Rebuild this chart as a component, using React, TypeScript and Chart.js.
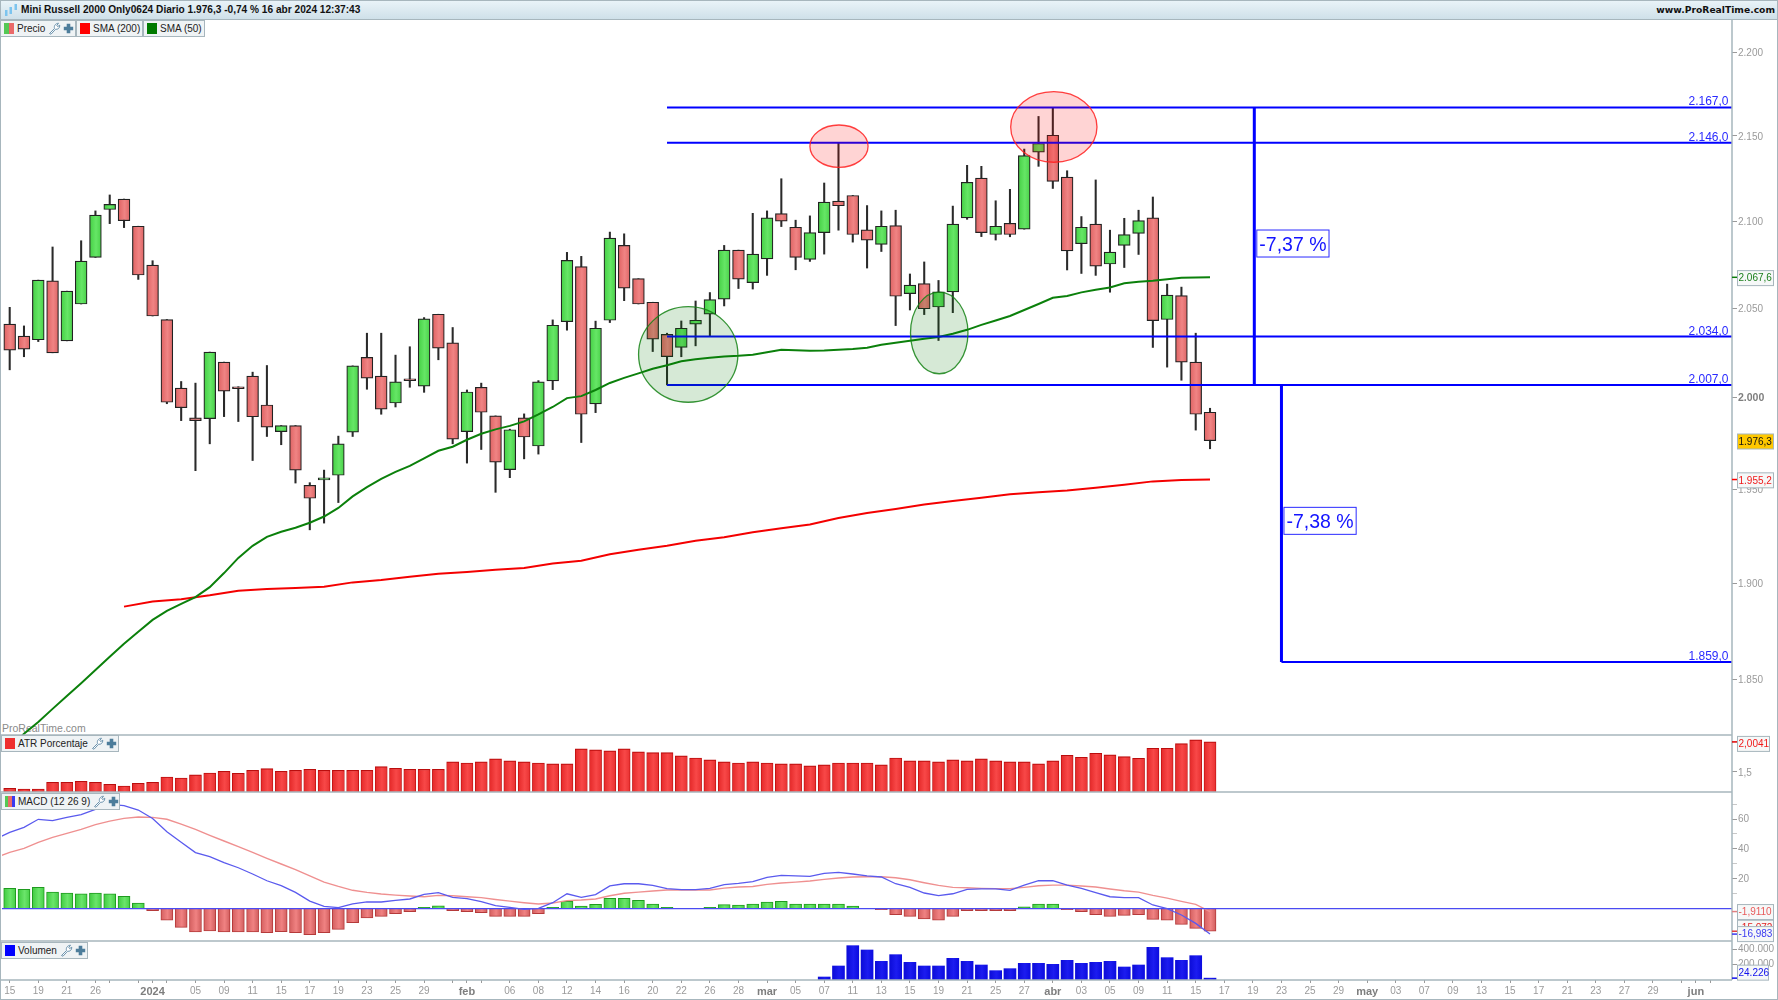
import React, { useEffect, useRef } from "react";
import { Chart, registerables } from "chart.js";
Chart.register(...registerables);

// ---------- data ----------
const open = [2041,2034.3,2032.2,2065.6,2031.6,2052.4,2079,2106.7,2112.8,2097,2074.6,2043.6,2005.2,1988.8,1988.4,2019.7,2005.4,2011.9,1995.9,1981.3,1984.6,1952.1,1955,1957.5,1981,2022.3,2011.9,1997,2009.8,2006.3,2046.6,2030.5,1981.3,2005.7,1989.9,1960.6,1988.8,1973.4,2009.2,2042.4,2073.7,1996.5,2043.2,2085.9,2066.8,2053.4,2035.2,2027.9,2041,2046.6,2055.1,2083.2,2064.6,2078.1,2104.3,2096.4,2077.9,2093.3,2111.6,2114.9,2094.9,2086.5,2097.4,2058.3,2064,2050.7,2059.3,2101.8,2125.1,2092.2,2098.7,2095.3,2140.4,2150.4,2125.7,2086.9,2098.2,2075.2,2085.9,2092.8,2101.8,2043.6,2057.2,2019.7,1991.9];
const close = [2026.4,2027,2066,2024.9,2059.7,2076.9,2103.4,2109.7,2100.2,2068.9,2045.6,1997.4,1994.4,1987.3,2025.3,2003.6,2004.9,1989.4,1983.7,1984.6,1960.3,1945.1,1956.1,1974.6,2017.6,2010.8,1993.6,2008.7,2009.3,2044,2027.5,1977.2,2003.1,1991.9,1964.6,1982.3,1978.3,2008.7,2040.4,2077.3,1990.8,2038.7,2090.1,2061.4,2052.4,2032.6,2022.8,2038.7,2043.2,2054.9,2083.2,2066.6,2080.9,2101.8,2099.9,2079,2093.3,2111,2108.9,2092.2,2089,2097,2056.8,2063.1,2049.7,2059.3,2098.2,2122.6,2093.3,2097,2092.2,2138.3,2145.5,2123.2,2082.7,2096.4,2074,2082.1,2092.2,2100.2,2043,2057.5,2019.7,1990.8,1976.3];
const high = [2050.5,2040,2066,2085,2059.7,2088.6,2105.9,2115.2,2112.8,2097,2077.1,2043.6,2008.9,2008,2025.3,2019.7,2006,2014.1,2017.8,1984.6,1984.6,1953.5,1960.3,1978.8,2017.6,2035.9,2035.9,2023.6,2028.3,2044.7,2046.6,2039.1,2004.2,2008,1989.9,1982.6,1991,2009.4,2043.4,2081.9,2079.6,2042.7,2093.6,2092.6,2066.8,2053.4,2035.9,2042.8,2054.1,2058.9,2085.9,2083.2,2104.5,2105.9,2124.7,2100.5,2103,2122.2,2146,2114.9,2109,2105.9,2106.3,2069.5,2076.4,2065.8,2108.7,2132.6,2132,2111.8,2118.5,2142.2,2161.6,2167,2129.4,2102.6,2124,2094.7,2101.6,2106.3,2114,2063.7,2062,2035.9,1994.1];
const low = [2015.4,2022.7,2031.2,2024.9,2031.6,2052.4,2079,2098.5,2096.2,2066.4,2045.6,1996.6,1987.3,1960,1974.6,1989.5,1986.8,1965.5,1978.6,1974.1,1953.3,1928.2,1931.8,1942.8,1978.6,2004.6,1990.8,1994.8,2005.7,2002.9,2021,1974.6,1964.1,1971.5,1948.3,1956.2,1966.4,1969,2004.4,2037.6,1975.3,1991.7,2041.9,2054.3,2052.4,2025.6,2007,2022.7,2028.8,2034,2051.3,2061.2,2060.9,2068.7,2096.8,2071.9,2076.7,2080.9,2094.7,2087.8,2072.9,2082.4,2040.2,2049,2046.4,2031.8,2047.5,2101,2091,2089,2090.9,2095.3,2132,2119,2071.8,2069.8,2068.7,2059.1,2073.2,2080.7,2027.9,2016.9,2009.6,1982.1,1971.9];
const sma50 = [1815.4,1822.5,1828.5,1835.1,1841.7,1848.2,1854.9,1861.7,1868.4,1874.6,1880.8,1885.5,1889.1,1892.7,1897.9,1905.3,1913.3,1919.7,1924.5,1927.2,1929.3,1932,1935.3,1939.9,1946.1,1951.1,1955.5,1959.3,1962.6,1966.7,1970.8,1973,1976.8,1980.1,1982.5,1984.4,1986.9,1990.7,1994.8,1999.7,2000.8,2004.2,2008.1,2010.9,2013.4,2016,2017.9,2020.2,2021.3,2022.1,2022.8,2023.2,2023.8,2025.2,2026.6,2026.3,2026,2026.2,2026.6,2027,2027.7,2029.4,2030.5,2031.6,2032.8,2033.8,2035.6,2037.8,2040.6,2043.1,2045.6,2049,2052.4,2055.9,2057,2059,2060.5,2061.8,2064.2,2065.1,2065.6,2066.5,2067.3,2067.5,2067.6];
// read every second bar, starting at bar 8
const sma200Start = 8;
const sma200 = [1887.7,1890.4,1891.6,1893.6,1896,1896.9,1897.4,1898.1,1900.4,1901.6,1903.4,1904.9,1905.8,1907,1908,1910.3,1911.8,1915.2,1917.6,1919.7,1922.4,1924.2,1926.9,1929.1,1931.1,1934.5,1937.2,1939.3,1941.7,1943.6,1945.4,1947.2,1948.3,1949.3,1950.8,1952.4,1954.2,1954.9,1955.2];
const atr = [1.226,1.215,1.215,1.327,1.327,1.343,1.327,1.293,1.265,1.31,1.327,1.416,1.399,1.45,1.483,1.511,1.478,1.528,1.556,1.511,1.528,1.545,1.528,1.528,1.528,1.528,1.59,1.562,1.545,1.545,1.545,1.668,1.651,1.668,1.719,1.685,1.668,1.651,1.635,1.635,1.886,1.87,1.853,1.886,1.836,1.825,1.825,1.769,1.735,1.702,1.668,1.651,1.668,1.651,1.635,1.635,1.601,1.618,1.651,1.651,1.651,1.618,1.735,1.685,1.685,1.668,1.702,1.685,1.719,1.685,1.668,1.668,1.635,1.685,1.78,1.747,1.814,1.786,1.758,1.73,1.898,1.898,1.976,2.038,2.0041];
const macdHist = [13.6,12.9,14.3,11.1,10.5,10,10.5,10,8.2,3.8,-1.3,-7.6,-12.5,-15.6,-14.9,-15.6,-15.6,-15.6,-16.1,-15.4,-16.1,-17.4,-16.1,-13.8,-9.4,-6.2,-5.1,-3.3,-2,0.9,2,-1.3,-2,-2.7,-5.1,-5.1,-5.1,-3.3,0.9,4.9,1.8,2.9,6.9,6.9,5.6,3.1,0.9,0,0,0.9,2.7,2.5,3.1,4.5,4.9,3.1,3.1,3.1,3.1,1.8,0,-0.7,-4,-5.1,-6.9,-7.6,-5.1,-1.3,-1.3,-1.3,-1.3,1.3,3.1,3.1,-0.7,-2,-4,-5.1,-4.5,-4,-7.1,-7.6,-10.5,-13.2,-15.072];
// both MACD lines run in from the left edge, so their lists begin one bar before the first candle
const macdLineStart = -1;
const macdLine = [46.5,51,54.4,59.8,58.9,61.1,62.9,66.4,69.8,68.9,66,60.4,51.5,44.4,37.5,34.8,30.8,27.4,23.2,18.7,15.4,10.9,5.1,1.6,0.7,3.3,4.5,4.5,5.6,6.5,9.6,10.7,7.6,6.7,4.7,2,0.9,-0.4,0.2,4,10,7.6,9.4,15.2,16.7,16.7,15.6,13.4,12.7,12.7,13.6,16.1,16.9,18.1,21,22.3,21.9,21.6,23.6,24.3,23.2,21.9,21.2,16.7,14.3,10.5,8.7,10,12.9,13.2,13.2,12.3,15.8,18.7,18.7,15.8,13.6,10.7,8,7.4,7.4,2.5,0,-4.2,-9.8,-16.983];
const macdSignal = [34,37.7,40.4,44.4,47.7,50.4,53.1,56.2,58.6,60.4,61.3,61.1,59.8,56.6,53.1,49.1,45.3,41.5,37.7,33.7,29.9,26.1,21.9,17.8,14.9,12.3,10.9,9.8,9.1,8.5,8,8.9,8.7,8,7.4,6.2,5.1,4,3.1,3.8,5.4,5.8,6.5,8.7,10.3,11.1,11.8,12.5,12.7,12.5,12.5,13.8,14.5,14.9,16.3,17.2,17.8,18.5,19.6,20.5,21.2,21.4,21.4,20.7,19.4,17.4,15.6,14.3,14,13.6,13.4,13.4,14.3,15.4,15.8,15.8,15.2,14.5,13.2,12,11.1,8.9,7.1,4.9,2.9,-1.911];
const volumeStart = 57;
const volume = [39000,182400,447300,390900,243200,330100,230200,182400,182400,282300,243200,195400,121600,147700,217200,217200,204100,256200,217200,230200,243200,169400,195400,425600,291000,256200,317000,24226];

const priceTicks = [2200,2150,2100,2050,2000,1950,1900,1850];
const atrTicks = [1.5];
const macdTicks = [70,60,50,40,30,20,10];
const macdLabelled = [60,40,20];
const volumeTicks = [400000,200000];
const xTickBars = [0,2,4,6,7,9,10,11,13,15,17,19,21,23,25,27,29,31,32,33,35,37,39,41,43,45,47,49,51,53,55,57,59,61,63,65,67,69,71,73,75,77,79,81,83,85,87,89,91,93,95,97,99,101,103,105,107,109,111,113,115,117,118,119];
const xTickLabels = ["15","19","21","26","","","2024","","05","09","11","15","17","19","23","25","29","","feb","","06","08","12","14","16","20","22","26","28","mar","05","07","11","13","15","19","21","25","27","abr","03","05","09","11","15","17","19","23","25","29","may","03","07","09","13","15","17","21","23","27","29","","jun",""];
const boldLabels = ["2024","feb","mar","abr","may","jun"];

const upperLevels = [2167,2146,2034,2007];
const upperLevelFrom = 46;
const lowerLevel = 1859;
const lowerLevelFrom = 89;
const dropA = { bar: 87.1, from: 2167, to: 2007, label: "-7,37 %", labelValue: 2087 };
const dropB = { bar: 89, from: 2007, to: 1859, label: "-7,38 %", labelValue: 1933 };
const ellipses = [
  { barMin: 56, barMax: 60.07, top: 2156.5, bottom: 2131.4, fill: "rgba(255,0,0,0.17)", stroke: "rgba(255,30,30,0.85)" },
  { barMin: 70.05, barMax: 76.09, top: 2176.5, bottom: 2134.4, fill: "rgba(255,0,0,0.17)", stroke: "rgba(255,30,30,0.85)" },
  { barMin: 44.01, barMax: 50.96, top: 2050.9, bottom: 1997.4, fill: "rgba(0,120,0,0.16)", stroke: "rgba(20,130,20,0.85)" },
  { barMin: 63.04, barMax: 67.06, top: 2059.2, bottom: 2013.2, fill: "rgba(0,120,0,0.16)", stroke: "rgba(20,130,20,0.85)" },
];
const valueTags = [
  { axis: "price", value: 2067.6, text: "2.067,6", color: "#1a7f1a", bg: "#f6f8f8", w: 37, tick: "#0a7d0a", dy: 0.8 },
  { axis: "price", value: 1976.3, text: "1.976,3", color: "#111", bg: "#ffc800", w: 37, tick: "", dy: 0.8 },
  { axis: "price", value: 1955.2, text: "1.955,2", color: "#f01818", bg: "#f6f8f8", w: 37, tick: "#f00", dy: 0.8 },
  { axis: "atr", value: 2.0041, text: "2,0041", color: "#f01818", bg: "#f6f8f8", w: 33, tick: "#d00", dy: 2 },
  { axis: "macd", value: -1.911, text: "-1,9110", color: "#e85a5a", bg: "#f6f8f8", w: 37, tick: "#e08080", dy: 0.5 },
  { axis: "macd", value: -15.072, text: "-15,072", color: "#e02020", bg: "#f6f8f8", w: 37, tick: "#e04040", dy: -3.5 },
  { axis: "macd", value: -16.983, text: "-16,983", color: "#3a3af0", bg: "#f6f8f8", w: 37, tick: "#3a3af0", dy: 0 },
  { axis: "volume", value: 24226, text: "24.226", color: "#1010ee", bg: "#f6f8f8", w: 32, tick: "#1010ee", dy: -5.5 },
];

const FONT = "'Liberation Sans', Arial, sans-serif";
const fmt = (v: number) => v.toLocaleString("de-DE");
const frameColor = "#a7b6bd";
const tickGrey = "#9a9a9a";

function shade(stops: string[]) {
  return (ctx: any) => {
    const c = ctx.chart;
    const x = ctx.raw && typeof ctx.raw.x === "number" && c.scales.x ? c.scales.x.getPixelForValue(ctx.raw.x) : null;
    if (x === null || !isFinite(x)) return stops[1];
    const g = c.ctx.createLinearGradient(x - 6, 0, x + 6, 0);
    g.addColorStop(0, stops[0]);
    g.addColorStop(0.55, stops[1]);
    g.addColorStop(1, stops[2]);
    return g;
  };
}
const upShade = shade(["#44cf44", "#66e666", "#48d048"]);
const downShade = shade(["#de6262", "#f08484", "#dc6464"]);
const atrShade = shade(["#e42828", "#f84848", "#e83030"]);
const histUp = shade(["#3fcb3f", "#6be56b", "#45cf45"]);
const histDown = shade(["#d45f5f", "#f08282", "#d05c5c"]);
const volShade = shade(["#0c0cd8", "#1c1cf0", "#0c0ce0"]);

const bars = (arr: number[], start = 0) => arr.map((y, i) => ({ x: i + start, y }));
const lineBase = { type: "line", pointRadius: 0, fill: false, tension: 0 } as any;

const annotations = {
  id: "annotations",
  afterDatasetsDraw(chart: any) {
    const { ctx, scales } = chart;
    const x = scales.x, p = scales.price;
    ctx.save();
    ctx.beginPath();
    ctx.rect(x.left, p.top, x.right - x.left, p.bottom - p.top);
    ctx.clip();
    for (const e of ellipses) {
      const l = x.getPixelForValue(e.barMin), r = x.getPixelForValue(e.barMax);
      const t = p.getPixelForValue(e.top), b = p.getPixelForValue(e.bottom);
      ctx.beginPath();
      ctx.ellipse((l + r) / 2, (t + b) / 2, (r - l) / 2, (b - t) / 2, 0, 0, Math.PI * 2);
      ctx.fillStyle = e.fill;
      ctx.fill();
      ctx.strokeStyle = e.stroke;
      ctx.lineWidth = 1.3;
      ctx.stroke();
    }
    ctx.fillStyle = "#2a2aff";
    ctx.font = `12px ${FONT}`;
    ctx.textAlign = "right";
    ctx.textBaseline = "alphabetic";
    for (const v of [...upperLevels, lowerLevel]) {
      ctx.fillText(v.toLocaleString("de-DE", { minimumFractionDigits: 1, maximumFractionDigits: 1 }), x.right - 3.5, p.getPixelForValue(v) - 2);
    }
    for (const d of [dropA, dropB]) {
      const left = x.getPixelForValue(d.bar) + 2;
      const yc = p.getPixelForValue(d.labelValue);
      ctx.font = `19.5px ${FONT}`;
      const w = ctx.measureText(d.label).width + 6;
      ctx.fillStyle = "#fff";
      ctx.fillRect(left, yc - 13.5, w, 27);
      ctx.strokeStyle = "#2a2aff";
      ctx.lineWidth = 1;
      ctx.strokeRect(left + 0.5, yc - 13.5, w - 1, 27);
      ctx.fillStyle = "#1414ff";
      ctx.textAlign = "left";
      ctx.textBaseline = "middle";
      ctx.fillText(d.label, left + 3, yc + 2);
    }
    ctx.restore();
  },
  afterDraw(chart: any) {
    const { ctx, scales } = chart;
    const x = scales.x;
    ctx.save();
    ctx.strokeStyle = frameColor;
    ctx.lineWidth = 1.5;
    for (const id of ["atr", "macd", "volume"]) {
      ctx.beginPath();
      ctx.moveTo(0, scales[id].top);
      ctx.lineTo(x.right, scales[id].top);
      ctx.stroke();
    }
    ctx.beginPath();
    ctx.moveTo(0, scales.volume.bottom);
    ctx.lineTo(x.right, scales.volume.bottom);
    ctx.moveTo(x.right, scales.price.top);
    ctx.lineTo(x.right, scales.volume.bottom);
    ctx.stroke();
    ctx.font = `10px ${FONT}`;
    ctx.textAlign = "left";
    ctx.textBaseline = "middle";
    for (const t of valueTags as any[]) {
      const y = scales[t.axis].getPixelForValue(t.value);
      if (t.tick) {
        ctx.strokeStyle = t.tick;
        ctx.lineWidth = 1.5;
        ctx.beginPath();
        ctx.moveTo(x.right, y);
        ctx.lineTo(x.right + 5, y);
        ctx.stroke();
      }
      const yc = y + (t.dy || 0);
      ctx.fillStyle = t.bg;
      ctx.fillRect(x.right + 5, yc - 7.5, t.w, 15);
      ctx.strokeStyle = frameColor;
      ctx.lineWidth = 1;
      ctx.strokeRect(x.right + 5.5, yc - 7.5, t.w - 1, 15);
      ctx.fillStyle = t.color;
      ctx.fillText(t.text, x.right + 6.5, yc + 0.5);
    }
    ctx.restore();
  },
};

function Wrench() {
  return (
    <svg width="13" height="13" viewBox="0 0 13 13" style={{ marginLeft: 3, flex: "none" }}>
      <path d="M1.5 11.5 L6.5 6.5 C5.8 4 7.2 1.5 10.5 1.2 L8.8 3.4 L9.6 4.6 L11.8 3.2 C12 6 9.6 7.8 7.6 7.2 L3 12.2 Z" fill="#fff" stroke="#5d88a5" strokeWidth="0.9" />
    </svg>
  );
}
function Plus() {
  return (
    <svg width="11" height="11" viewBox="0 0 11 11" style={{ marginLeft: 2, flex: "none" }}>
      <path d="M3.7 0.8 H7.3 V3.7 H10.2 V7.3 H7.3 V10.2 H3.7 V7.3 H0.8 V3.7 H3.7 Z" fill="#4d7d9b" />
    </svg>
  );
}
function Chip(props: { left: number; top: number; width: number; swatch: string[]; text: string; tools?: boolean }) {
  const n = props.swatch.length;
  return (
    <div style={{ position: "absolute", left: props.left, top: props.top, width: props.width, height: 17, boxSizing: "border-box", background: "#eff3f5", border: `1px solid ${frameColor}`, display: "flex", alignItems: "center", paddingLeft: 3, font: `10px ${FONT}`, color: "#222", whiteSpace: "nowrap", overflow: "hidden" }}>
      <span style={{ display: "flex", width: 10, height: 11, marginRight: 3, flex: "none" }}>
        {props.swatch.map((c, i) => <span key={i} style={{ width: 10 / n, height: 11, background: c }} />)}
      </span>
      <span>{props.text}</span>
      {props.tools ? <><Wrench /><Plus /></> : null}
    </div>
  );
}

export default function App() {
  const ref = useRef<HTMLCanvasElement>(null);
  useEffect(() => {
    Chart.defaults.font.family = FONT;
    const levelSets = upperLevels.map((v) => ({ ...lineBase, data: [{ x: upperLevelFrom, y: v }, { x: 121, y: v }], yAxisID: "price", borderColor: "#0000ff", borderWidth: 2, order: 1 }));
    const chart = new Chart(ref.current as HTMLCanvasElement, {
      type: "bar",
      data: {
        datasets: [
          { type: "bar", data: low.map((l, i) => ({ x: i, y: [l, high[i]] })), yAxisID: "price", grouped: false, barThickness: 1.4, backgroundColor: "#2a2a2a", borderWidth: 0, order: 6 },
          { type: "bar", data: open.map((o, i) => ({ x: i, y: [o, close[i]] })), yAxisID: "price", grouped: false, barThickness: 11.8, minBarLength: 2, borderSkipped: false, borderWidth: 1.2, borderColor: "#222",
            backgroundColor: (c: any) => (c.dataIndex !== undefined && close[c.dataIndex] >= open[c.dataIndex] ? upShade(c) : downShade(c)), order: 5 },
          { ...lineBase, data: bars(sma50), yAxisID: "price", borderColor: "#0b800b", borderWidth: 2, order: 4 },
          { ...lineBase, data: sma200.map((y, i) => ({ x: sma200Start + i * 2, y })), yAxisID: "price", borderColor: "#f40000", borderWidth: 2, order: 4 },
          ...levelSets,
          { ...lineBase, data: [{ x: lowerLevelFrom, y: lowerLevel }, { x: 121, y: lowerLevel }], yAxisID: "price", borderColor: "#0000ff", borderWidth: 2, order: 1 },
          { ...lineBase, data: [{ x: dropA.bar, y: dropA.from }, { x: dropA.bar, y: dropA.to }], yAxisID: "price", borderColor: "#0000ff", borderWidth: 3, order: 1 },
          { ...lineBase, data: [{ x: dropB.bar, y: dropB.from }, { x: dropB.bar, y: dropB.to }], yAxisID: "price", borderColor: "#0000ff", borderWidth: 3, order: 1 },
          { type: "bar", data: bars(atr), yAxisID: "atr", grouped: false, barThickness: 12, borderWidth: { top: 1.2, left: 0.8, right: 0.8, bottom: 0 }, borderColor: "#bb0d0d", backgroundColor: atrShade, order: 3 },
          { type: "bar", data: bars(macdHist), yAxisID: "macd", grouped: false, barThickness: 12, borderWidth: 1, borderColor: (c: any) => (macdHist[c.dataIndex] >= 0 ? "#1f9a1f" : "#b53a3a"),
            backgroundColor: (c: any) => (macdHist[c.dataIndex] >= 0 ? histUp(c) : histDown(c)), order: 3 },
          { ...lineBase, data: [{ x: -1, y: 0 }, { x: 121, y: 0 }], yAxisID: "macd", borderColor: "#4a4af2", borderWidth: 1.3, order: 2 },
          { ...lineBase, data: bars(macdSignal, macdLineStart), yAxisID: "macd", borderColor: "#ef9090", borderWidth: 1.4, order: 2 },
          { ...lineBase, data: bars(macdLine, macdLineStart), yAxisID: "macd", borderColor: "#5a5aee", borderWidth: 1.3, order: 1 },
          { type: "bar", data: bars(volume, volumeStart), yAxisID: "volume", grouped: false, barThickness: 12, borderWidth: 0, backgroundColor: volShade, order: 3 },
        ],
      } as any,
      options: {
        responsive: false,
        animation: false,
        layout: { padding: { top: 20, left: 2, right: 0, bottom: 0 } },
        plugins: { legend: { display: false }, title: { display: false }, tooltip: { enabled: false } },
        scales: {
          x: {
            type: "linear", min: -0.539, max: 120.53, position: "bottom", offset: false,
            afterBuildTicks(a: any) { a.ticks = xTickBars.map((value) => ({ value })); },
            afterFit(a: any) { a.height = 20; a.paddingLeft = 0; a.paddingRight = 0; },
            border: { display: false },
            grid: { offset: false, drawOnChartArea: false, drawTicks: true, tickLength: 3, tickColor: tickGrey },
            ticks: {
              autoSkip: false, maxRotation: 0, minRotation: 0, padding: 2,
              callback: (v: any) => { const k = xTickBars.indexOf(v); return k >= 0 ? xTickLabels[k] : ""; },
              font: (c: any) => (boldLabels.includes(c.tick && c.tick.label) ? { size: 11, weight: "bold" } : { size: 10 }),
              color: (c: any) => (boldLabels.includes(c.tick && c.tick.label) ? "#7e7e7e" : tickGrey),
            },
          },
          price: {
            type: "logarithmic", position: "right", stack: "panels", stackWeight: 715, min: 1821.9, max: 2220, weight: 1,
            afterBuildTicks(a: any) { a.ticks = priceTicks.map((value) => ({ value })); },
            afterFit(a: any) { a.width = 46; },
            border: { display: false },
            grid: { drawOnChartArea: false, tickLength: 5, tickColor: tickGrey },
            ticks: { autoSkip: false, crossAlign: "near", padding: 1, labelOffset: 1, callback: (v: any) => fmt(v),
              font: (c: any) => (c.tick && c.tick.value === 2000 ? { size: 10.5, weight: "bold" } : { size: 10 }),
              color: (c: any) => (c.tick && c.tick.value === 2000 ? "#7e7e7e" : tickGrey) },
          },
          atr: {
            type: "linear", position: "right", stack: "panels", stackWeight: 57, min: 1.164, max: 2.12, weight: 2,
            afterBuildTicks(a: any) { a.ticks = atrTicks.map((value) => ({ value })); },
            afterFit(a: any) { a.width = 46; },
            border: { display: false },
            grid: { drawOnChartArea: false, tickLength: 5, tickColor: tickGrey },
            ticks: { autoSkip: false, crossAlign: "near", padding: 1, labelOffset: 1, color: tickGrey, font: { size: 10 }, callback: (v: any) => fmt(v) },
          },
          macd: {
            type: "linear", position: "right", stack: "panels", stackWeight: 149, min: -21.6, max: 78.06, weight: 3,
            afterBuildTicks(a: any) { a.ticks = macdTicks.map((value) => ({ value })); },
            afterFit(a: any) { a.width = 46; },
            border: { display: false },
            grid: { drawOnChartArea: false, tickLength: 5, tickColor: (c: any) => (c.tick && macdLabelled.includes(c.tick.value) ? tickGrey : "#c8c8c8") },
            ticks: { autoSkip: false, crossAlign: "near", padding: 1, color: tickGrey, font: { size: 10 }, callback: (v: any) => (macdLabelled.includes(v) ? fmt(v) : "") },
          },
          volume: {
            type: "linear", position: "right", stack: "panels", stackWeight: 39, min: 0, max: 508000, weight: 4,
            afterBuildTicks(a: any) { a.ticks = volumeTicks.map((value) => ({ value })); },
            afterFit(a: any) { a.width = 46; },
            border: { display: false },
            grid: { drawOnChartArea: false, tickLength: 5, tickColor: tickGrey },
            ticks: { autoSkip: false, crossAlign: "near", padding: 1, color: tickGrey, font: { size: 10 }, callback: (v: any) => fmt(v) },
          },
        },
      } as any,
      plugins: [annotations],
    } as any);
    return () => chart.destroy();
  }, []);
  return (
    <div style={{ position: "absolute", left: 0, top: 0, width: 1778, height: 1000, overflow: "hidden", background: "#fff", boxSizing: "border-box" }}>
      <div style={{ position: "absolute", left: 2, top: 722, font: `10.5px ${FONT}`, color: "#8a8a8a" }}>ProRealTime.com</div>
      <canvas ref={ref} width={1778} height={1000} style={{ position: "absolute", left: 0, top: 0, display: "block" }} />
      <div style={{ position: "absolute", left: 0, top: 0, width: 1778, height: 20, boxSizing: "border-box", background: "linear-gradient(#e9f3f8,#cfe0e9)", borderTop: "1px solid #a9bcc6", borderBottom: `1.5px solid ${frameColor}` }}>
        <svg width="14" height="14" viewBox="0 0 14 14" style={{ position: "absolute", left: 4, top: 2 }}>
          <rect x="1" y="7" width="2.5" height="6" fill="#7cc4ee" /><rect x="5.5" y="4" width="2.5" height="7" fill="#7cc4ee" /><rect x="10.5" y="1" width="2.5" height="6" fill="#7cc4ee" />
        </svg>
        <div style={{ position: "absolute", left: 21, top: 3, font: `bold 10.15px ${FONT}`, color: "#111", whiteSpace: "nowrap" }}>Mini Russell 2000 Only0624 Diario 1.976,3 -0,74 % 16 abr 2024 12:37:43</div>
        <div style={{ position: "absolute", right: 3, top: 3, font: `bold 9.2px 'DejaVu Sans', sans-serif`, color: "#111", whiteSpace: "nowrap" }}>www.ProRealTime.com</div>
      </div>
      <Chip left={0} top={20} width={76} swatch={["#55c855", "#ea6a6a"]} text="Precio" tools />
      <Chip left={76} top={20} width={67} swatch={["#ff0000"]} text="SMA (200)" />
      <Chip left={143} top={20} width={62} swatch={["#007a00"]} text="SMA (50)" />
      <Chip left={1} top={735} width={118} swatch={["#ee2e2e"]} text="ATR Porcentaje" tools />
      <Chip left={1} top={793} width={119} swatch={["#55c855", "#ea6a6a", "#3a3af0"]} text="MACD (12 26 9)" tools />
      <Chip left={1} top={942} width={87} swatch={["#0000ff"]} text="Volumen" tools />
      <div style={{ position: "absolute", left: 0, top: 0, width: 1778, height: 1000, boxSizing: "border-box", border: `1px solid ${frameColor}`, pointerEvents: "none" }} />
    </div>
  );
}
